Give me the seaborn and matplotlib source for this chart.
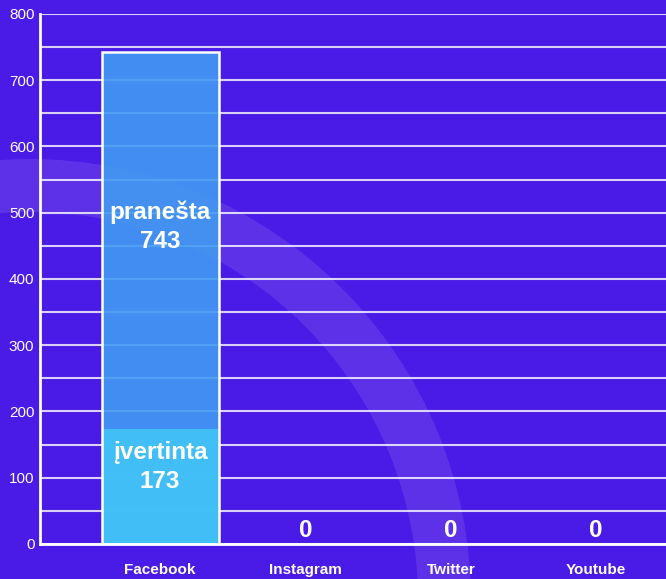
import matplotlib
matplotlib.use("Agg")
import matplotlib.pyplot as plt
import seaborn as sns
from matplotlib.patches import Rectangle, Wedge
from matplotlib.ticker import MultipleLocator

# duomenys
kategorijos = ["Facebook", "Instagram", "Twitter", "Youtube"]
pranesta = [743, 0, 0, 0]
ivertinta = [173, 0, 0, 0]

FONAS = "#4A1AE6"
SPALVA_PRANESTA = "#419BF3"
SPALVA_IVERTINTA = "#41C4F7"

sns.set_theme(style="white")
plt.rcParams["font.family"] = ["Liberation Sans", "DejaVu Sans"]

fig = plt.figure(figsize=(6.66, 5.79), dpi=100, facecolor=FONAS)
ax = fig.add_axes([0.060, 0.0605, 0.94, 0.9154])
ax.set_facecolor("none")

# dekoratyvus lankas fone
lankas = Wedge((0.30, -0.21), 4.41, 0, 360, width=0.53,
               transform=fig.dpi_scale_trans, facecolor="white",
               alpha=0.1, edgecolor="none", zorder=0)
fig.add_artist(lankas)

sns.barplot(x=kategorijos, y=pranesta, color=SPALVA_PRANESTA, width=0.805,
            alpha=0.9, linewidth=0, saturation=1, ax=ax, zorder=2)
n = len(ax.patches)
sns.barplot(x=kategorijos, y=ivertinta, color=SPALVA_IVERTINTA, width=0.805,
            alpha=0.9, linewidth=0, saturation=1, ax=ax, zorder=2)

# baltas kontūras aplink pranešta stulpelį
for p in ax.patches[:n]:
    if p.get_height() > 0:
        ax.add_patch(Rectangle((p.get_x(), p.get_y()), p.get_width(), p.get_height(),
                               fill=False, edgecolor="white", linewidth=1.8, zorder=3))

# etiketės
for i, (pr, iv) in enumerate(zip(pranesta, ivertinta)):
    if pr > 0:
        ax.text(i, pr * 0.645, f"pranešta\n{pr}", ha="center", va="center",
                color="white", fontsize=17.5, fontweight="bold", zorder=4,
                linespacing=1.35)
        ax.text(i, iv * 0.67, f"įvertinta\n{iv}", ha="center", va="center",
                color="white", fontsize=17.5, fontweight="bold", zorder=4,
                linespacing=1.35)
    else:
        ax.annotate(f"{pr}", (i, 0), xytext=(0, 1.5), textcoords="offset points",
                    ha="center", va="bottom", color="white", fontsize=17.5,
                    fontweight="bold", zorder=4)

ax.set_xlim(-0.826, 3.48)
ax.set_ylim(0, 800)
ax.yaxis.set_major_locator(MultipleLocator(100))
ax.yaxis.set_minor_locator(MultipleLocator(50))
ax.grid(axis="y", which="both", color="white", alpha=0.8, linewidth=1.5)
ax.grid(axis="x", visible=False)
ax.set_axisbelow(True)

for s in ["top", "right"]:
    ax.spines[s].set_visible(False)
for s in ["left", "bottom"]:
    ax.spines[s].set_color("white")
    ax.spines[s].set_linewidth(2)

ax.tick_params(axis="y", which="both", length=0, colors="white", labelsize=11, pad=4)
ax.tick_params(axis="x", length=6, width=2.5, color="white", colors="white",
               labelsize=11, pad=8, direction="out")
for lab in ax.get_xticklabels():
    lab.set_fontweight("bold")
ax.set_xlabel("")
ax.set_ylabel("")

fig.savefig("out.png", dpi=100, facecolor=fig.get_facecolor())
